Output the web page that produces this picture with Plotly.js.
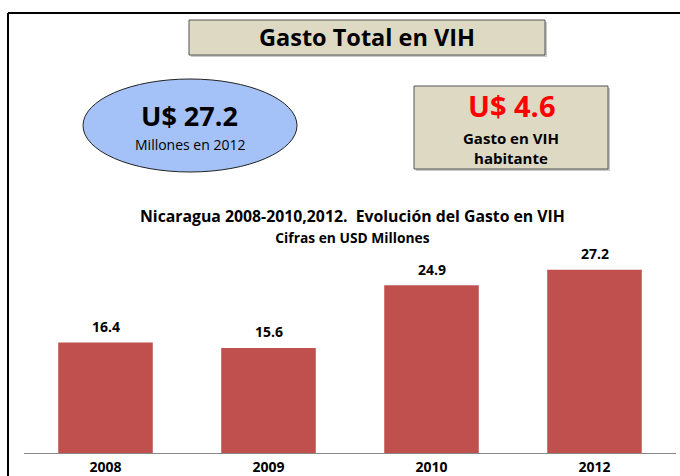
<!DOCTYPE html>
<html>
<head>
<meta charset="utf-8">
<script src="https://cdn.plot.ly/plotly-3.0.1.min.js"></script>
<style>html,body{margin:0;padding:0;background:#fff;}#chart{width:680px;height:476px;}</style>
</head>
<body>
<div id="chart"></div>
<script>
var years = ['2008', '2009', '2010', '2012'];
var gasto = [16.4, 15.6, 24.9, 27.2];
var labels = ['16.4', '15.6', '24.9', '27.2'];

var W = 680, H = 476;
var mL = 24, mR = 4, mT = 251, mB = 23;
var pw = W - mL - mR, ph = H - mT - mB;
function px(x) { return (x - mL) / pw; }
function py(y) { return (H - mB - y) / ph; }

var FONT = '"Open Sans", Lato, sans-serif';

var trace = {
  type: 'bar', x: years, y: gasto,
  marker: {color: '#c0504d'},
  hoverinfo: 'x+y'
};

var shapes = [
  // frame
  {type: 'line', xref: 'paper', yref: 'paper', x0: px(8), x1: px(8), y0: py(13), y1: py(476), line: {color: '#000', width: 2}},
  {type: 'line', xref: 'paper', yref: 'paper', x0: px(8), x1: px(680), y0: py(13), y1: py(13), line: {color: '#000', width: 2}},
  // title box shadow + box
  {type: 'rect', xref: 'paper', yref: 'paper', x0: px(191), x1: px(547), y0: py(22), y1: py(57), fillcolor: '#c8c8c8', line: {width: 0}},
  {type: 'rect', xref: 'paper', yref: 'paper', x0: px(189), x1: px(545), y0: py(20), y1: py(55), fillcolor: '#ddd9c3', line: {color: '#555', width: 1}},
  // ellipse
  {type: 'circle', xref: 'paper', yref: 'paper', x0: px(83), x1: px(297), y0: py(79), y1: py(172), fillcolor: '#a4c2f7', line: {color: '#222', width: 1}},
  // box 2 shadow + box
  {type: 'rect', xref: 'paper', yref: 'paper', x0: px(416), x1: px(610), y0: py(88), y1: py(171), fillcolor: '#c8c8c8', line: {width: 0}},
  {type: 'rect', xref: 'paper', yref: 'paper', x0: px(414), x1: px(608), y0: py(86), y1: py(169), fillcolor: '#ddd9c3', line: {color: '#555', width: 1}}
];

function ann(text, x, y, size, color, bold) {
  return {xref: 'paper', yref: 'paper', x: px(x), y: py(y), xanchor: 'center', yanchor: 'middle',
    text: text, showarrow: false, borderpad: 0,
    font: {family: FONT, size: size, color: color || '#000', weight: bold ? 700 : 400}};
}

var annotations = [
  ann('Gasto Total en VIH', 367, 37, 23.5, '#000', true),
  ann('U$ 27.2', 190, 115, 27, '#000', true),
  ann('Millones en 2012', 190, 144, 14, '#000', false),
  ann('U$ 4.6', 511, 105, 29, '#ff0000', true),
  ann('Gasto en VIH<br>habitante', 511, 148, 15, '#000', true),
  ann('Nicaragua 2008-2010,2012.  Evolución del Gasto en VIH<br><span style="font-size:13.8px">Cifras en USD Millones</span>', 352, 226, 15.8, '#000', true)
];

// value labels above bars, positioned by the data scales (category index)
for (var i = 0; i < years.length; i++) {
  annotations.push({xref: 'x', yref: 'y', x: i, y: gasto[i], yshift: 16,
    xanchor: 'center', yanchor: 'middle', text: labels[i], showarrow: false,
    font: {family: FONT, size: 14, color: '#000', weight: 700}});
}

var layout = {
  width: W, height: H,
  margin: {l: mL, r: mR, t: mT, b: mB, pad: 0},
  paper_bgcolor: '#fff', plot_bgcolor: '#fff',
  showlegend: false,
  bargap: 0.42,
  xaxis: {type: 'category', categoryarray: years, showline: true, linecolor: '#888', linewidth: 1, ticks: '', showgrid: false,
    tickfont: {family: FONT, size: 14, color: '#000', weight: 700}, ticklabelstandoff: 1},
  yaxis: {range: [0, 30], visible: false, showgrid: false, zeroline: false},
  shapes: shapes,
  annotations: annotations
};

Plotly.newPlot('chart', [trace], layout, {displayModeBar: false, staticPlot: true});
</script>
</body>
</html>
